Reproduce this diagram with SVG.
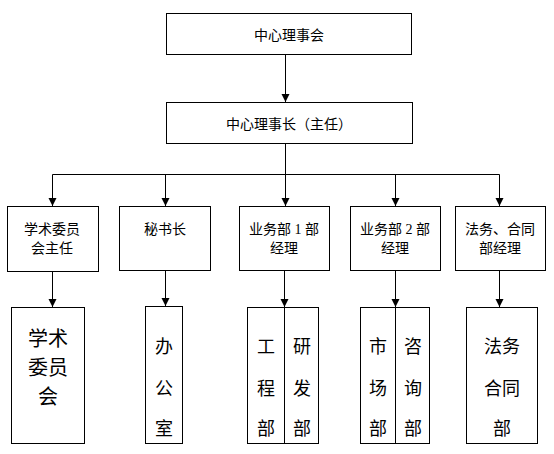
<svg xmlns="http://www.w3.org/2000/svg" width="554" height="454" viewBox="0 0 554 454">
<style>
.box{fill:#fff;stroke:#000;stroke-width:1}
.ln{fill:none;stroke:#000;stroke-width:1}
.t{font-family:"Liberation Serif","Noto Sans CJK SC",sans-serif;font-size:14px;fill:#000;text-anchor:middle}
.b{font-size:18px}
.c{font-size:20px}
</style>
<defs>
<marker id="ah" markerUnits="userSpaceOnUse" markerWidth="10" markerHeight="10" refX="8" refY="4" orient="auto">
<path d="M0,0 L8,4 L0,8 Z" fill="#000"/>
</marker>
</defs>
<rect width="554" height="454" fill="#fff"/>
<g id="connectors">
<path class="ln" d="M285.5,55 V102" marker-end="url(#ah)"/>
<path class="ln" d="M285.5,143 V206" marker-end="url(#ah)"/>
<path class="ln" d="M52.5,174.5 H499.5"/>
<path class="ln" d="M52.5,174.5 V206" marker-end="url(#ah)"/>
<path class="ln" d="M165.5,174.5 V206" marker-end="url(#ah)"/>
<path class="ln" d="M395.5,174.5 V206" marker-end="url(#ah)"/>
<path class="ln" d="M499.5,174.5 V206" marker-end="url(#ah)"/>
<path class="ln" d="M52.5,271 V307" marker-end="url(#ah)"/>
<path class="ln" d="M165.5,270 V306" marker-end="url(#ah)"/>
<path class="ln" d="M284.5,270 V307" marker-end="url(#ah)"/>
<path class="ln" d="M395.5,270 V307" marker-end="url(#ah)"/>
<path class="ln" d="M499.5,270 V307" marker-end="url(#ah)"/>
</g>
<g id="board">
<rect class="box" x="166.5" y="13.5" width="245" height="41"/>
<text class="t" x="289" y="39.5">中心理事会</text>
</g>
<g id="chair">
<rect class="box" x="166.5" y="102.5" width="246" height="41"/>
<text class="t" x="289" y="128.5">中心理事长（主任）</text>
</g>
<g id="academic-head">
<rect class="box" x="7.5" y="206.5" width="91" height="65"/>
<text class="t" x="52" y="233.5">学术委员</text>
<text class="t" x="52" y="252.5">会主任</text>
</g>
<g id="secretary">
<rect class="box" x="119.5" y="206.5" width="91" height="64"/>
<text class="t" x="165" y="233.5">秘书长</text>
</g>
<g id="biz1-head">
<rect class="box" x="239.5" y="206.5" width="90" height="64"/>
<text class="t" x="284" y="233.5">业务部 1 部</text>
<text class="t" x="284" y="252.5">经理</text>
</g>
<g id="biz2-head">
<rect class="box" x="350.5" y="206.5" width="90" height="64"/>
<text class="t" x="395" y="233.5">业务部 2 部</text>
<text class="t" x="395" y="252.5">经理</text>
</g>
<g id="legal-head">
<rect class="box" x="455.5" y="206.5" width="90" height="64"/>
<text class="t" x="500" y="233.5">法务、合同</text>
<text class="t" x="500" y="252.5">部经理</text>
</g>
<g id="academic">
<rect class="box" x="11.5" y="307.5" width="73" height="136"/>
<text class="t c" x="48" y="345.5">学术</text>
<text class="t c" x="48" y="374.5">委员</text>
<text class="t c" x="48" y="403.5">会</text>
</g>
<g id="office">
<rect class="box" x="145.5" y="306.5" width="37" height="137"/>
<text class="t b" x="164" y="352.5">办</text>
<text class="t b" x="164" y="394.5">公</text>
<text class="t b" x="164" y="434.5">室</text>
</g>
<g id="biz1">
<rect class="box" x="247.5" y="307.5" width="71" height="136"/>
<path class="ln" d="M284.5,307.5 V443.5"/>
<text class="t b" x="266" y="352.5">工</text>
<text class="t b" x="266" y="394.5">程</text>
<text class="t b" x="266" y="434.5">部</text>
<text class="t b" x="302" y="352.5">研</text>
<text class="t b" x="302" y="394.5">发</text>
<text class="t b" x="302" y="434.5">部</text>
</g>
<g id="biz2">
<rect class="box" x="360.5" y="307.5" width="69" height="136"/>
<path class="ln" d="M395.5,307.5 V443.5"/>
<text class="t b" x="378" y="352.5">市</text>
<text class="t b" x="378" y="394.5">场</text>
<text class="t b" x="378" y="434.5">部</text>
<text class="t b" x="413" y="352.5">咨</text>
<text class="t b" x="413" y="394.5">询</text>
<text class="t b" x="413" y="434.5">部</text>
</g>
<g id="legal">
<rect class="box" x="466.5" y="307.5" width="71" height="136"/>
<text class="t b" x="502" y="352.5">法务</text>
<text class="t b" x="502" y="394.5">合同</text>
<text class="t b" x="502" y="434.5">部</text>
</g>
</svg>
